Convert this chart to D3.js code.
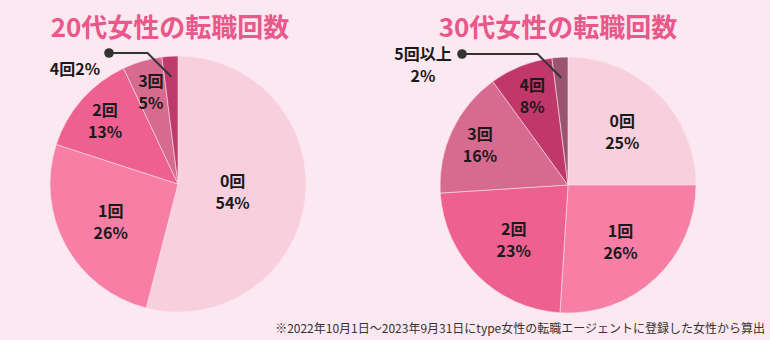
<!DOCTYPE html>
<html><head><meta charset="utf-8">
<script src="https://cdn.jsdelivr.net/npm/d3@7"></script>
<style>
html,body{margin:0;padding:0;background:#fce8f0;}
svg{display:block;font-family:"Noto Sans CJK JP","Noto Sans",sans-serif;}
</style></head>
<body>
<svg id="chart" width="770" height="340"></svg>
<script>
// ---- data ----
const titles = ["20代女性の転職回数", "30代女性の転職回数"];
const categories20 = ["0回", "1回", "2回", "3回", "4回"];
const values20 = [54, 26, 13, 5, 2];
const categories30 = ["0回", "1回", "2回", "3回", "4回", "5回以上"];
const values30 = [25, 26, 23, 16, 8, 2];
const colors20 = ["#f7cfdd", "#f77ea5", "#ed6090", "#d66a8f", "#be3a6b"];
const colors30 = ["#f7cfdd", "#f77ea5", "#ed6090", "#d66a8f", "#c0386a", "#9b5470"];
const footnote = "※2022年10月1日～2023年9月31日にtype女性の転職エージェントに登録した女性から算出";

const svg = d3.select("#chart");
svg.append("rect").attr("width", 770).attr("height", 340).attr("fill", "#fce8f0");

const R = 128;
const charts = [
  {title: titles[0], cats: categories20, vals: values20, colors: colors20, cx: 178, cy: 184, titleX: 170, dotX: 109, oneLine: true},
  {title: titles[1], cats: categories30, vals: values30, colors: colors30, cx: 568, cy: 185, titleX: 558, dotX: 462, oneLine: false}
];

const pie = d3.pie().sort(null).value(d => d);
const FS = 16;

charts.forEach(c => {
  const g = svg.append("g").attr("transform", `translate(${c.cx},${c.cy})`);
  const arcs = pie(c.vals);
  const total = d3.sum(c.vals);
  const arc = d3.arc().innerRadius(0).outerRadius(R);
  g.selectAll("path").data(arcs).join("path")
    .attr("d", arc)
    .attr("fill", (d, i) => c.colors[i])
    .attr("stroke", "#fbe3ec").attr("stroke-width", 0.6);

  arcs.forEach((d, i) => {
    const p = d.data / total;
    if (p < 0.04) {
      const inner = d3.arc().innerRadius(R * 0.84).outerRadius(R * 0.84).centroid(d);
      const y1 = -R - 3;
      const ex = inner[0] - (inner[1] - y1);
      const lx = c.dotX - c.cx;
      g.append("path")
        .attr("d", `M${inner[0]},${inner[1]}L${ex},${y1}L${lx},${y1}`)
        .attr("fill", "none").attr("stroke", "#333").attr("stroke-width", 2);
      g.append("circle").attr("cx", lx).attr("cy", y1).attr("r", 4.8).attr("fill", "#333");
      if (c.oneLine) {
        g.append("text").attr("x", lx - 34).attr("y", y1 + 15)
          .attr("text-anchor", "middle").attr("dominant-baseline", "central")
          .attr("font-size", FS).attr("font-weight", 700).attr("fill", "#1a1a1a")
          .text(c.cats[i] + d.data + "%");
      } else {
        const t = g.append("text").attr("text-anchor", "middle")
          .attr("font-size", FS).attr("font-weight", 700).attr("fill", "#1a1a1a");
        t.append("tspan").attr("x", lx - 39).attr("y", y1 - 1).attr("dominant-baseline", "central").text(c.cats[i]);
        t.append("tspan").attr("x", lx - 39).attr("y", y1 + 21).attr("dominant-baseline", "central").text(d.data + "%");
      }
    } else {
      const f = p >= 0.4 ? 0.43 : (p >= 0.2 ? 0.6 : 0.76);
      const pos = d3.arc().innerRadius(R * f).outerRadius(R * f).centroid(d);
      const t = g.append("text").attr("text-anchor", "middle")
        .attr("font-size", FS).attr("font-weight", 700).attr("fill", "#1a1a1a");
      t.append("tspan").attr("x", pos[0]).attr("y", pos[1] - 11).attr("dominant-baseline", "central").text(c.cats[i]);
      t.append("tspan").attr("x", pos[0]).attr("y", pos[1] + 11).attr("dominant-baseline", "central").text(d.data + "%");
    }
  });

  svg.append("text").attr("x", c.titleX).attr("y", 25)
    .attr("text-anchor", "middle").attr("dominant-baseline", "central")
    .attr("font-size", 26).attr("font-weight", 700).attr("fill", "#e8588a")
    .text(c.title);
});

svg.append("text").attr("x", 765).attr("y", 327)
  .attr("text-anchor", "end").attr("dominant-baseline", "central")
  .attr("font-size", 12).attr("fill", "#333")
  .text(footnote);
</script>
</body></html>
